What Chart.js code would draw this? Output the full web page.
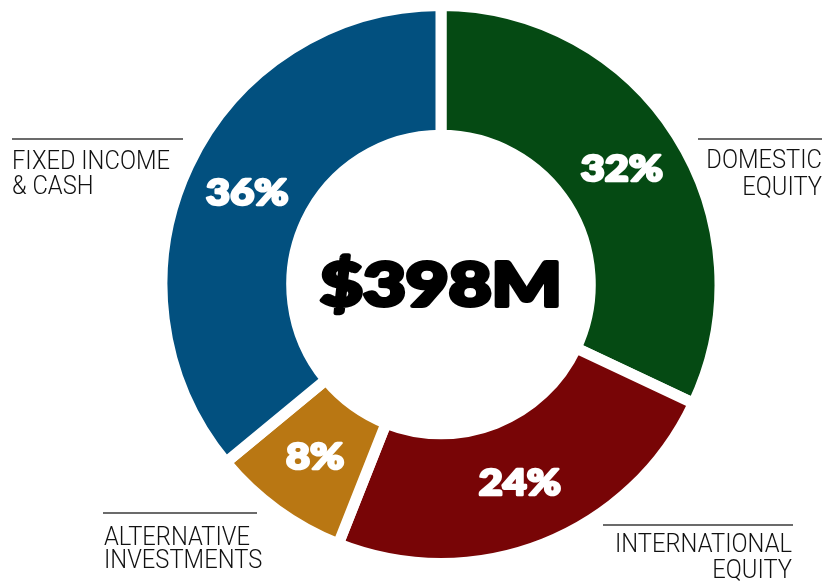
<!DOCTYPE html>
<html>
<head>
<meta charset="utf-8">
<title>Asset allocation</title>
<script src="https://cdn.jsdelivr.net/npm/chart.js@4.4.1/dist/chart.umd.min.js"></script>
<style>
  html, body { margin: 0; padding: 0; background: #fff; }
  #wrap { width: 825px; height: 582px; }
</style>
</head>
<body>
<div id="wrap"><canvas id="allocChart" width="825" height="582"></canvas></div>
<script>
// data
const categories = ['DOMESTIC EQUITY', 'INTERNATIONAL EQUITY', 'ALTERNATIVE INVESTMENTS', 'FIXED INCOME & CASH'];
const labelLines = [['DOMESTIC', 'EQUITY'], ['INTERNATIONAL', 'EQUITY'], ['ALTERNATIVE', 'INVESTMENTS'], ['FIXED INCOME', '& CASH']];
const allocationPct = [32, 24, 8, 36];
const totalLabel = '$398M';

// where the outside captions sit (rule + text block)
const captionSpots = [
  { align: 'right', x1: 698, x2: 822, lineY: 139, tx: 822, base: [168, 195] },
  { align: 'right', x1: 603, x2: 793, lineY: 525, tx: 792, base: [552, 578] },
  { align: 'left',  x1: 103, x2: 257, lineY: 513, tx: 104, base: [545, 568] },
  { align: 'left',  x1: 12,  x2: 183, lineY: 139, tx: 12,  base: [169, 194] }
];

const captionFont = "300 25px 'Roboto', 'Liberation Sans', sans-serif";
const heavyFont = "'Lato', 'Roboto', sans-serif";

// draw text squeezed/stretched to a given width, optionally fattened with a stroke
function fitText(ctx, text, x, y, width, fatten) {
  const w = ctx.measureText(text).width;
  const k = width / w;
  ctx.save();
  ctx.translate(x, y);
  ctx.scale(k, 1);
  if (fatten) {
    ctx.lineWidth = fatten;
    ctx.lineJoin = 'round';
    ctx.strokeStyle = ctx.fillStyle;
    ctx.strokeText(text, 0, 0);
  }
  ctx.fillText(text, 0, 0);
  ctx.restore();
}

const sliceLabels = {
  id: 'sliceLabels',
  afterDatasetsDraw(chart) {
    const ctx = chart.ctx;
    const meta = chart.getDatasetMeta(0);
    ctx.save();

    // percentages inside each slice
    ctx.fillStyle = '#fff';
    ctx.font = '900 36px ' + heavyFont;
    ctx.textAlign = 'center';
    ctx.textBaseline = 'middle';
    meta.data.forEach((arc, i) => {
      const p = arc.tooltipPosition();
      const txt = allocationPct[i] + '%';
      fitText(ctx, txt, p.x, p.y, ctx.measureText(txt).width * 1.15, 2.5);
    });

    // total in the hole
    const c = meta.data[0];
    ctx.fillStyle = '#000';
    ctx.font = '900 60px ' + heavyFont;
    fitText(ctx, totalLabel, c.x, c.y + 2, 242, 4);

    // outside captions
    ctx.font = captionFont;
    ctx.textBaseline = 'alphabetic';
    ctx.strokeStyle = '#3a3a3a';
    ctx.lineWidth = 1.5;
    const k = 158 / ctx.measureText('FIXED INCOME').width;
    captionSpots.forEach((s, i) => {
      ctx.beginPath();
      ctx.moveTo(s.x1, s.lineY);
      ctx.lineTo(s.x2, s.lineY);
      ctx.stroke();
      ctx.fillStyle = '#111';
      ctx.textAlign = s.align;
      labelLines[i].forEach((t, j) => fitText(ctx, t, s.tx, s.base[j], ctx.measureText(t).width * k));
    });
    ctx.restore();
  }
};

new Chart(document.getElementById('allocChart'), {
  type: 'doughnut',
  data: {
    labels: categories,
    datasets: [{
      data: allocationPct,
      backgroundColor: ['#054a13', '#780506', '#b97713', '#02507f'],
      borderColor: '#ffffff',
      borderWidth: 11,
      borderJoinStyle: 'miter'
    }]
  },
  options: {
    responsive: false,
    animation: false,
    cutout: '53.5%',
    layout: { padding: { top: -7, bottom: 13, left: 153, right: 96 } },
    plugins: {
      legend: { display: false },
      tooltip: { enabled: false }
    }
  },
  plugins: [sliceLabels]
});
</script>
</body>
</html>
